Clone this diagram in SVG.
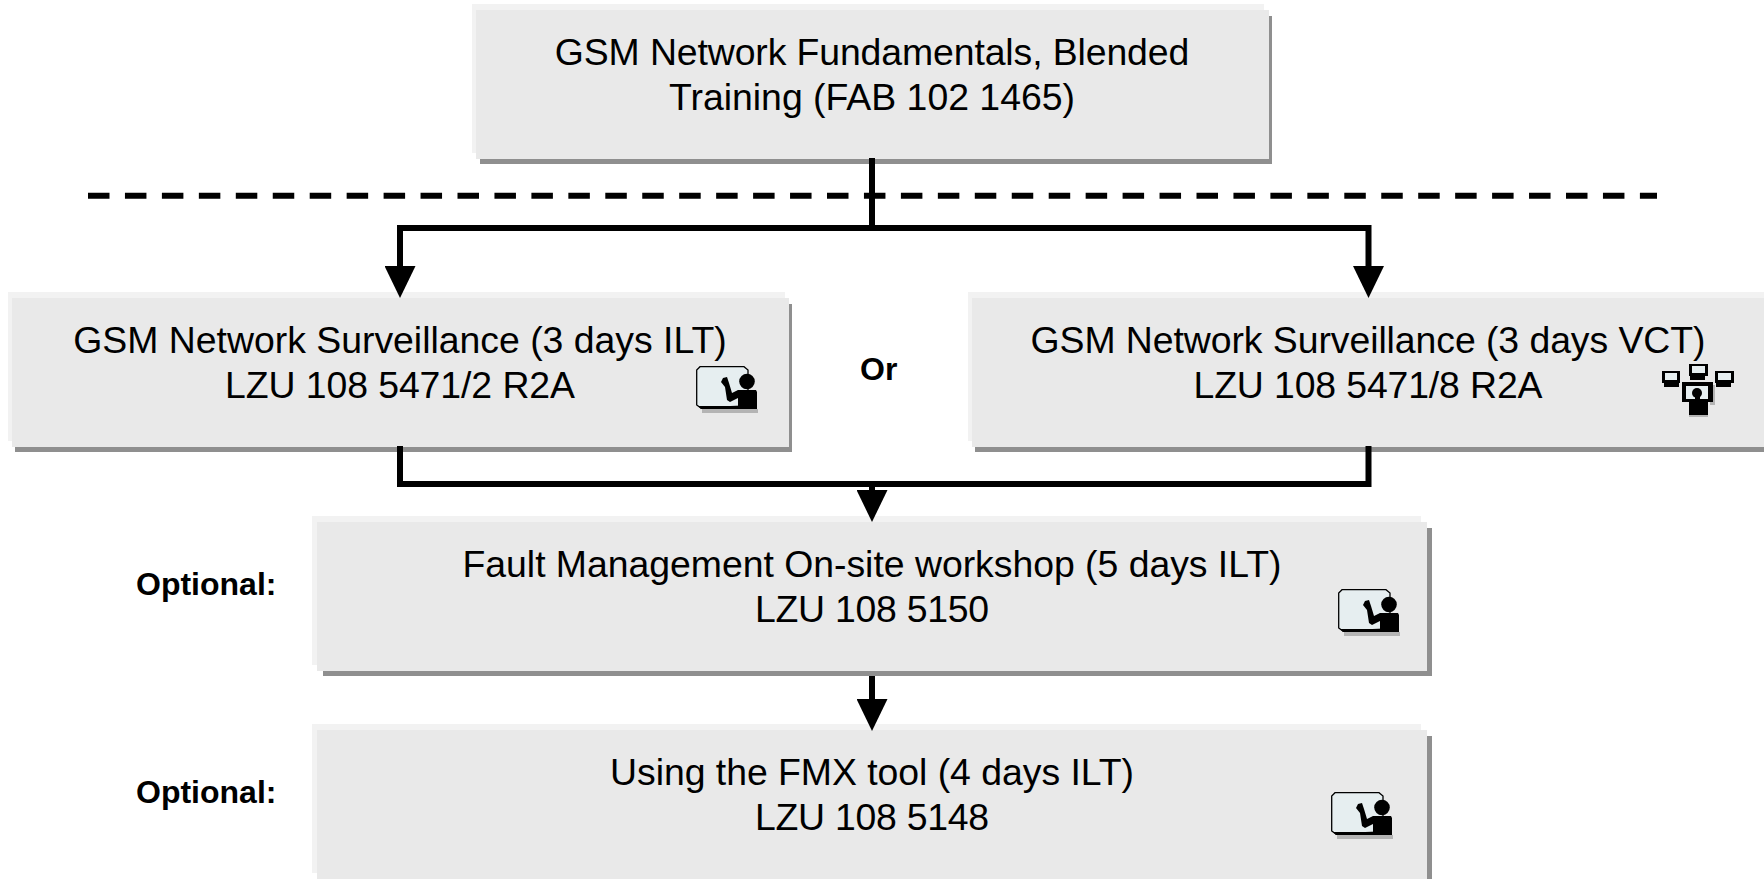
<svg xmlns="http://www.w3.org/2000/svg" width="1764" height="879" viewBox="0 0 1764 879">
<style>
text{font-family:"Liberation Sans",Arial,sans-serif;fill:#000}
.t{font-size:37.400px;text-anchor:middle}
.b{font-size:32px;font-weight:bold}
.hi{fill:#f2f2f2}.main{fill:#e9e9e9}.sh{fill:#8f8f8f}
.c{fill:none;stroke:#000;stroke-width:6}
.s{fill:#e6eef0}.k{fill:#000}.g{fill:#b4b4b4}
</style>
<defs>
<marker id="ah" markerUnits="userSpaceOnUse" markerWidth="31" markerHeight="32" refX="15.500" refY="1" orient="0" viewBox="0 0 31 32"><path d="M0 0H31L15.500 32Z" fill="#000"/></marker>
<g id="ilt">
<path class="g" d="M6 43H62V47H6Z"/>
<path d="M4 0.700H48L52 4V40L5 42L0.700 39V4Z" fill="#e6eef0" stroke="#000" stroke-width="1.300"/>
<path class="k" d="M2 40H42V43H5Z"/>
<circle class="k" cx="51" cy="15.500" r="7.800"/>
<path class="k" d="M27 12L31 11L33 17L36 27L42 24H60L61 26V43H42V32L34 36L31 34L29 21L25 16Z"/>
</g>
</defs>
<rect width="1764" height="879" fill="#fff"/>
<g id="n1"><rect class="sh" x="480" y="16" width="792" height="148"/><rect class="hi" x="472" y="4" width="792" height="149"/><rect class="main" x="476" y="10" width="793" height="149"/>
<text class="t" x="872" y="65" textLength="634.500">GSM Network Fundamentals, Blended</text><text class="t" x="872" y="110" textLength="406">Training (FAB 102 1465)</text></g>
<g id="n2"><rect class="sh" x="15" y="304" width="777" height="148"/><rect class="hi" x="8" y="292" width="777" height="149"/><rect class="main" x="12" y="298" width="777" height="149"/>
<text class="t" x="400" y="353" textLength="653.500">GSM Network Surveillance (3 days ILT)</text><text class="t" x="400" y="398" textLength="350">LZU 108 5471/2 R2A</text><use href="#ilt" x="696" y="366"/></g>
<g id="n3"><rect class="sh" x="975" y="304" width="789" height="148"/><rect class="hi" x="968" y="292" width="796" height="149"/><rect class="main" x="972" y="298" width="792" height="149"/>
<text class="t" x="1368" y="353" textLength="675">GSM Network Surveillance (3 days VCT)</text><text class="t" x="1368" y="398" textLength="349">LZU 108 5471/8 R2A</text>
<g id="vct">
<rect class="g" x="1689" y="402" width="19" height="15"/><rect class="g" x="1710" y="385" width="5" height="20"/>
<rect class="k" x="1662" y="371" width="18" height="12"/><rect class="s" x="1665" y="373" width="12" height="7"/><rect class="k" x="1664" y="383" width="15" height="4"/>
<rect class="k" x="1689" y="364" width="19" height="12"/><rect class="s" x="1692" y="366" width="13" height="7"/><rect class="k" x="1690" y="376" width="15" height="4"/>
<rect class="k" x="1715" y="371" width="19" height="12"/><rect class="s" x="1718" y="373" width="13" height="7"/><rect class="k" x="1716" y="383" width="15" height="4"/>
<rect class="k" x="1682" y="382" width="31" height="20"/><rect class="s" x="1686" y="386" width="22" height="13"/>
<circle class="k" cx="1697" cy="393" r="5"/><rect class="k" x="1695" y="396" width="5" height="6"/>
<rect class="k" x="1689" y="402" width="19" height="13"/></g></g>
<g id="n4"><rect class="sh" x="323" y="528" width="1109" height="148"/><rect class="hi" x="312" y="516" width="1109" height="149"/><rect class="main" x="317" y="522" width="1110" height="149"/>
<text class="t" x="872" y="577" textLength="819">Fault Management On-site workshop (5 days ILT)</text><text class="t" x="872" y="622" textLength="234">LZU 108 5150</text><use href="#ilt" x="1338" y="589"/></g>
<g id="n5"><rect class="sh" x="1427" y="736" width="5" height="143"/><rect class="hi" x="312" y="724" width="1109" height="149"/><rect class="main" x="317" y="730" width="1110" height="149"/>
<text class="t" x="872" y="785" textLength="524">Using the FMX tool (4 days ILT)</text><text class="t" x="872" y="830" textLength="234">LZU 108 5148</text><use href="#ilt" x="1331" y="792"/></g>
<g id="labels"><text class="b" x="860" y="380">Or</text><text class="b" x="136" y="595">Optional:</text><text class="b" x="136" y="803">Optional:</text></g>
<g id="connectors">
<path d="M88 195.700H1657" fill="none" stroke="#000" stroke-width="6" stroke-dasharray="21.500 15.450"/>
<path class="c" d="M872 158V228"/>
<path class="c" d="M400 267V228H1368.500V267" marker-start="url(#ah)" marker-end="url(#ah)"/>
<path class="c" d="M400 446V484H1368.500V446"/>
<path class="c" d="M872 484V491" marker-end="url(#ah)"/>
<path class="c" d="M872 676V700" marker-end="url(#ah)"/>
</g>
</svg>
